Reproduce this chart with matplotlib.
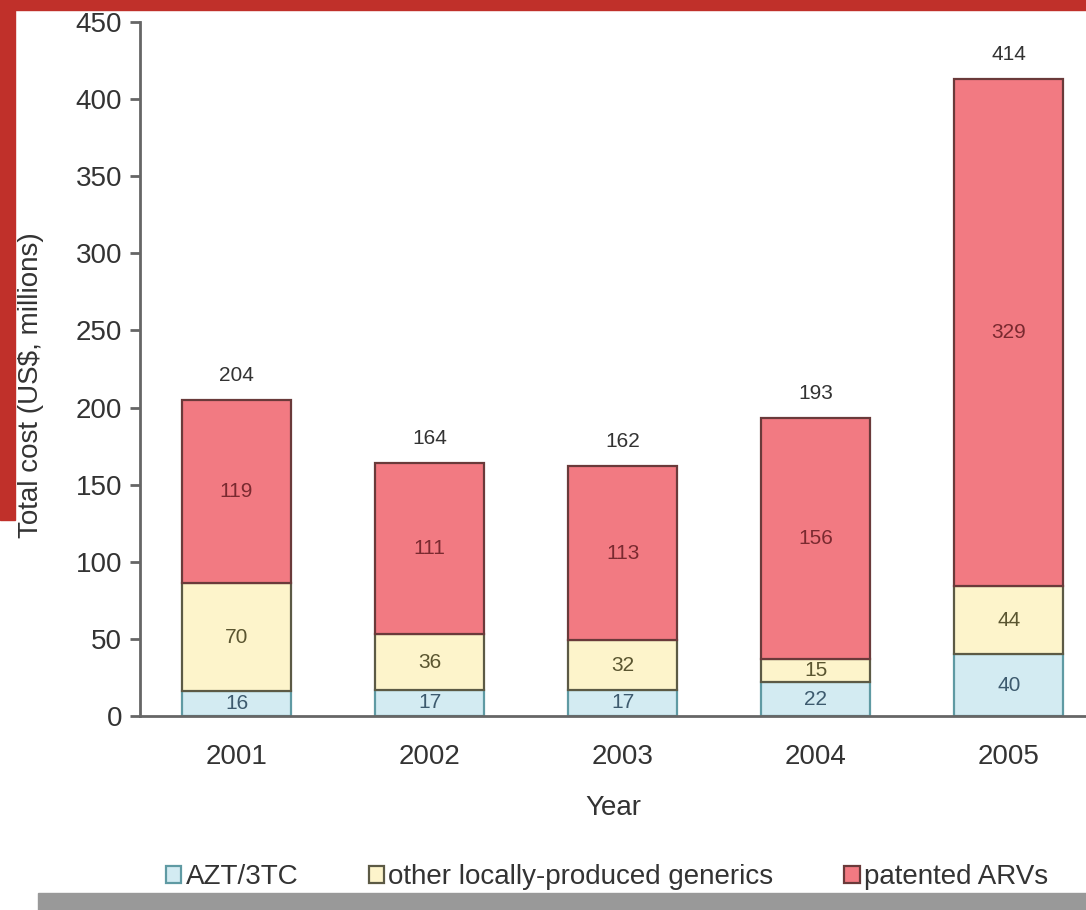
import matplotlib.pyplot as plt
from matplotlib.patches import Rectangle

years = ["2001", "2002", "2003", "2004", "2005"]
azt = [16, 17, 17, 22, 40]
generics = [70, 36, 32, 15, 44]
patented = [119, 111, 113, 156, 329]
totals = [204, 164, 162, 193, 414]

series = [
    ("AZT/3TC", azt, "#d3ebf2", "#5f9aa3", "#3d5a6e"),
    ("other locally-produced generics", generics, "#fdf4cb", "#5c5a45", "#5a5530"),
    ("patented ARVs", patented, "#f27a82", "#6a3a3a", "#7a2a30"),
]

plt.rcParams["font.family"] = ["Liberation Sans", "DejaVu Sans"]
txt = "#333333"

fig = plt.figure(figsize=(10.86, 9.10), dpi=100)
ax = fig.add_axes([140/1086, 194/910, 1 - 140/1086, (716-22)/910])

x = list(range(len(years)))
bottom = [0] * len(years)
for name, vals, fc, ec, tc in series:
    ax.bar(x, vals, width=0.565, bottom=bottom, color=fc, edgecolor=ec,
           linewidth=1.6, label=name, zorder=2)
    for i, v in enumerate(vals):
        ax.text(x[i], bottom[i] + v / 2, str(v), ha="center", va="center",
                fontsize=15, color=tc, zorder=3)
    bottom = [b + v for b, v in zip(bottom, vals)]

for i, t in enumerate(totals):
    ax.text(x[i], bottom[i] + 16, str(t), ha="center", va="center",
            fontsize=15, color=txt)

ax.set_xlim(-0.5, 4.4)
ax.set_ylim(0, 450)
ax.set_yticks(range(0, 451, 50))
ax.set_xticks(x)
ax.set_xticklabels(years)
for s in ["top", "right"]:
    ax.spines[s].set_visible(False)
for s in ["left", "bottom"]:
    ax.spines[s].set_color("#666666")
    ax.spines[s].set_linewidth(2)
ax.tick_params(axis="y", length=7, width=2, color="#666666", labelsize=20,
               labelcolor=txt, pad=6)
ax.tick_params(axis="x", length=0, labelsize=20, labelcolor=txt, pad=20)

fig.text(613/1086, 1 - 808/910, "Year", ha="center", va="center",
         fontsize=20, color=txt)
fig.text(31/1086, 1 - 385/910, "Total cost (US$, millions)", rotation=90,
         ha="center", va="center", fontsize=20, color=txt)

leg = fig.legend(loc="center", bbox_to_anchor=(607/1086, 1 - 877/910), ncol=3,
                 frameon=False, fontsize=20, handlelength=0.55, handleheight=0.55,
                 handletextpad=0.15, columnspacing=2.55, labelcolor=txt)

# screenshot frame
fig.patches.append(Rectangle((0, 1 - 10/910), 1, 10/910, transform=fig.transFigure,
                             color="#c0302a", zorder=10))
fig.patches.append(Rectangle((0, 1 - 520/910), 15/1086, 520/910,
                             transform=fig.transFigure, color="#c0302a", zorder=10))
fig.patches.append(Rectangle((38/1086, 0), 1, 17/910, transform=fig.transFigure,
                             color="#999999", zorder=10))

fig.savefig("out.png", dpi=100)
